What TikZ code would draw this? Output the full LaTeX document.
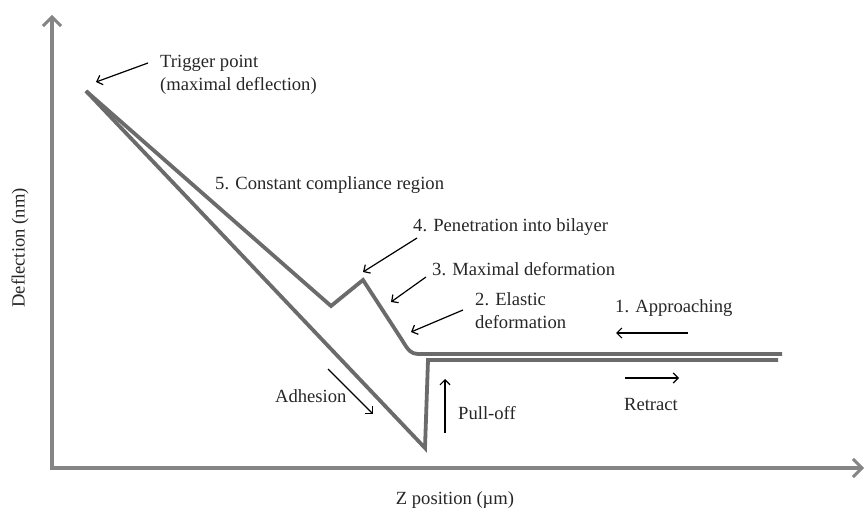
\documentclass[tikz,border=0pt]{standalone}
\usepackage{fontspec}
\setmainfont{Liberation Serif}
\usetikzlibrary{arrows.meta}
\begin{document}
\begin{tikzpicture}[x=1pt,y=-1pt,
  axis/.style={draw=black!48,line width=3.2pt,-{Straight Barb[length=9pt,width=18pt,line width=3pt]}},
  curve/.style={draw=black!58,line width=3.8pt,line join=miter},
  note/.style={draw=black,line width=1.2pt,-{Straight Barb[length=5pt,width=10pt,line width=1.2pt]}},
  lbl/.style={font=\fontsize{18.6}{23}\selectfont,inner sep=0pt,text=black!85}]
\useasboundingbox (0,0) rectangle (866,518);
% axes
\coordinate (O) at (52,468);
\coordinate (Ytop) at (52,15);
\coordinate (Xend) at (864,468);
\draw[axis] (O) -- (Ytop);
\draw[axis] ([xshift=-1.6pt]O) -- (Xend);
% curve points
\coordinate (T) at (86,91);
\coordinate (A) at (331,306);
\coordinate (P) at (363,280);
\coordinate (E) at (402,340);
\coordinate (H) at (418,354);
\coordinate (R1) at (782,354);
\coordinate (B) at (425,448);
\coordinate (V) at (428,360);
\coordinate (R2) at (778,360);
% approach curve
\draw[curve] (T) -- (A) -- (P) -- (E) .. controls (408,350) and (411,354) .. (H) -- (R1);
% retract curve
\draw[curve] (T) -- (B) -- (V) -- (R2);
% labels
\node[lbl,anchor=west,align=left] (trig) at (160,75) {Trigger point\\(maximal deflection)};
\node[lbl,anchor=west] (l5) at (215,185) {5. Constant compliance region};
\node[lbl,anchor=west] (l4) at (413,227) {4. Penetration into bilayer};
\node[lbl,anchor=west] (l3) at (432,269) {3. Maximal deformation};
\node[lbl,anchor=west,align=left] (l2) at (475,311) {2. Elastic\\deformation};
\node[lbl,anchor=west] (l1) at (615,308) {1. Approaching};
\node[lbl] (lr) at (651,404) {Retract};
\node[lbl,anchor=west] (la) at (275,396) {Adhesion};
\node[lbl,anchor=west] (lp) at (458,413) {Pull-off};
\node[lbl] (zx) at (455,500) {Z position (\textmu m)};
\node[lbl,rotate=90] (dy) at (20,248) {Deflection (nm)};
% annotation arrows
\coordinate (t1) at (148,63); \coordinate (t2) at (96,82);
\coordinate (p1) at (417,238); \coordinate (p2) at (363,272);
\coordinate (m1) at (426,277); \coordinate (m2) at (391,302);
\coordinate (e1) at (463,310); \coordinate (e2) at (411,332);
\coordinate (ap1) at (688,333); \coordinate (ap2) at (616,333);
\coordinate (re1) at (625,378); \coordinate (re2) at (679,378);
\coordinate (ad1) at (328,369); \coordinate (ad2) at (373,414);
\coordinate (pu1) at (445,433); \coordinate (pu2) at (445,379);
\draw[note] (t1) -- (t2);
\draw[note] (p1) -- (p2);
\draw[note] (m1) -- (m2);
\draw[note] (e1) -- (e2);
\draw[note] (ap1) -- (ap2);
\draw[note] (re1) -- (re2);
\draw[note] (ad1) -- (ad2);
\draw[note] (pu1) -- (pu2);
\end{tikzpicture}
\end{document}
